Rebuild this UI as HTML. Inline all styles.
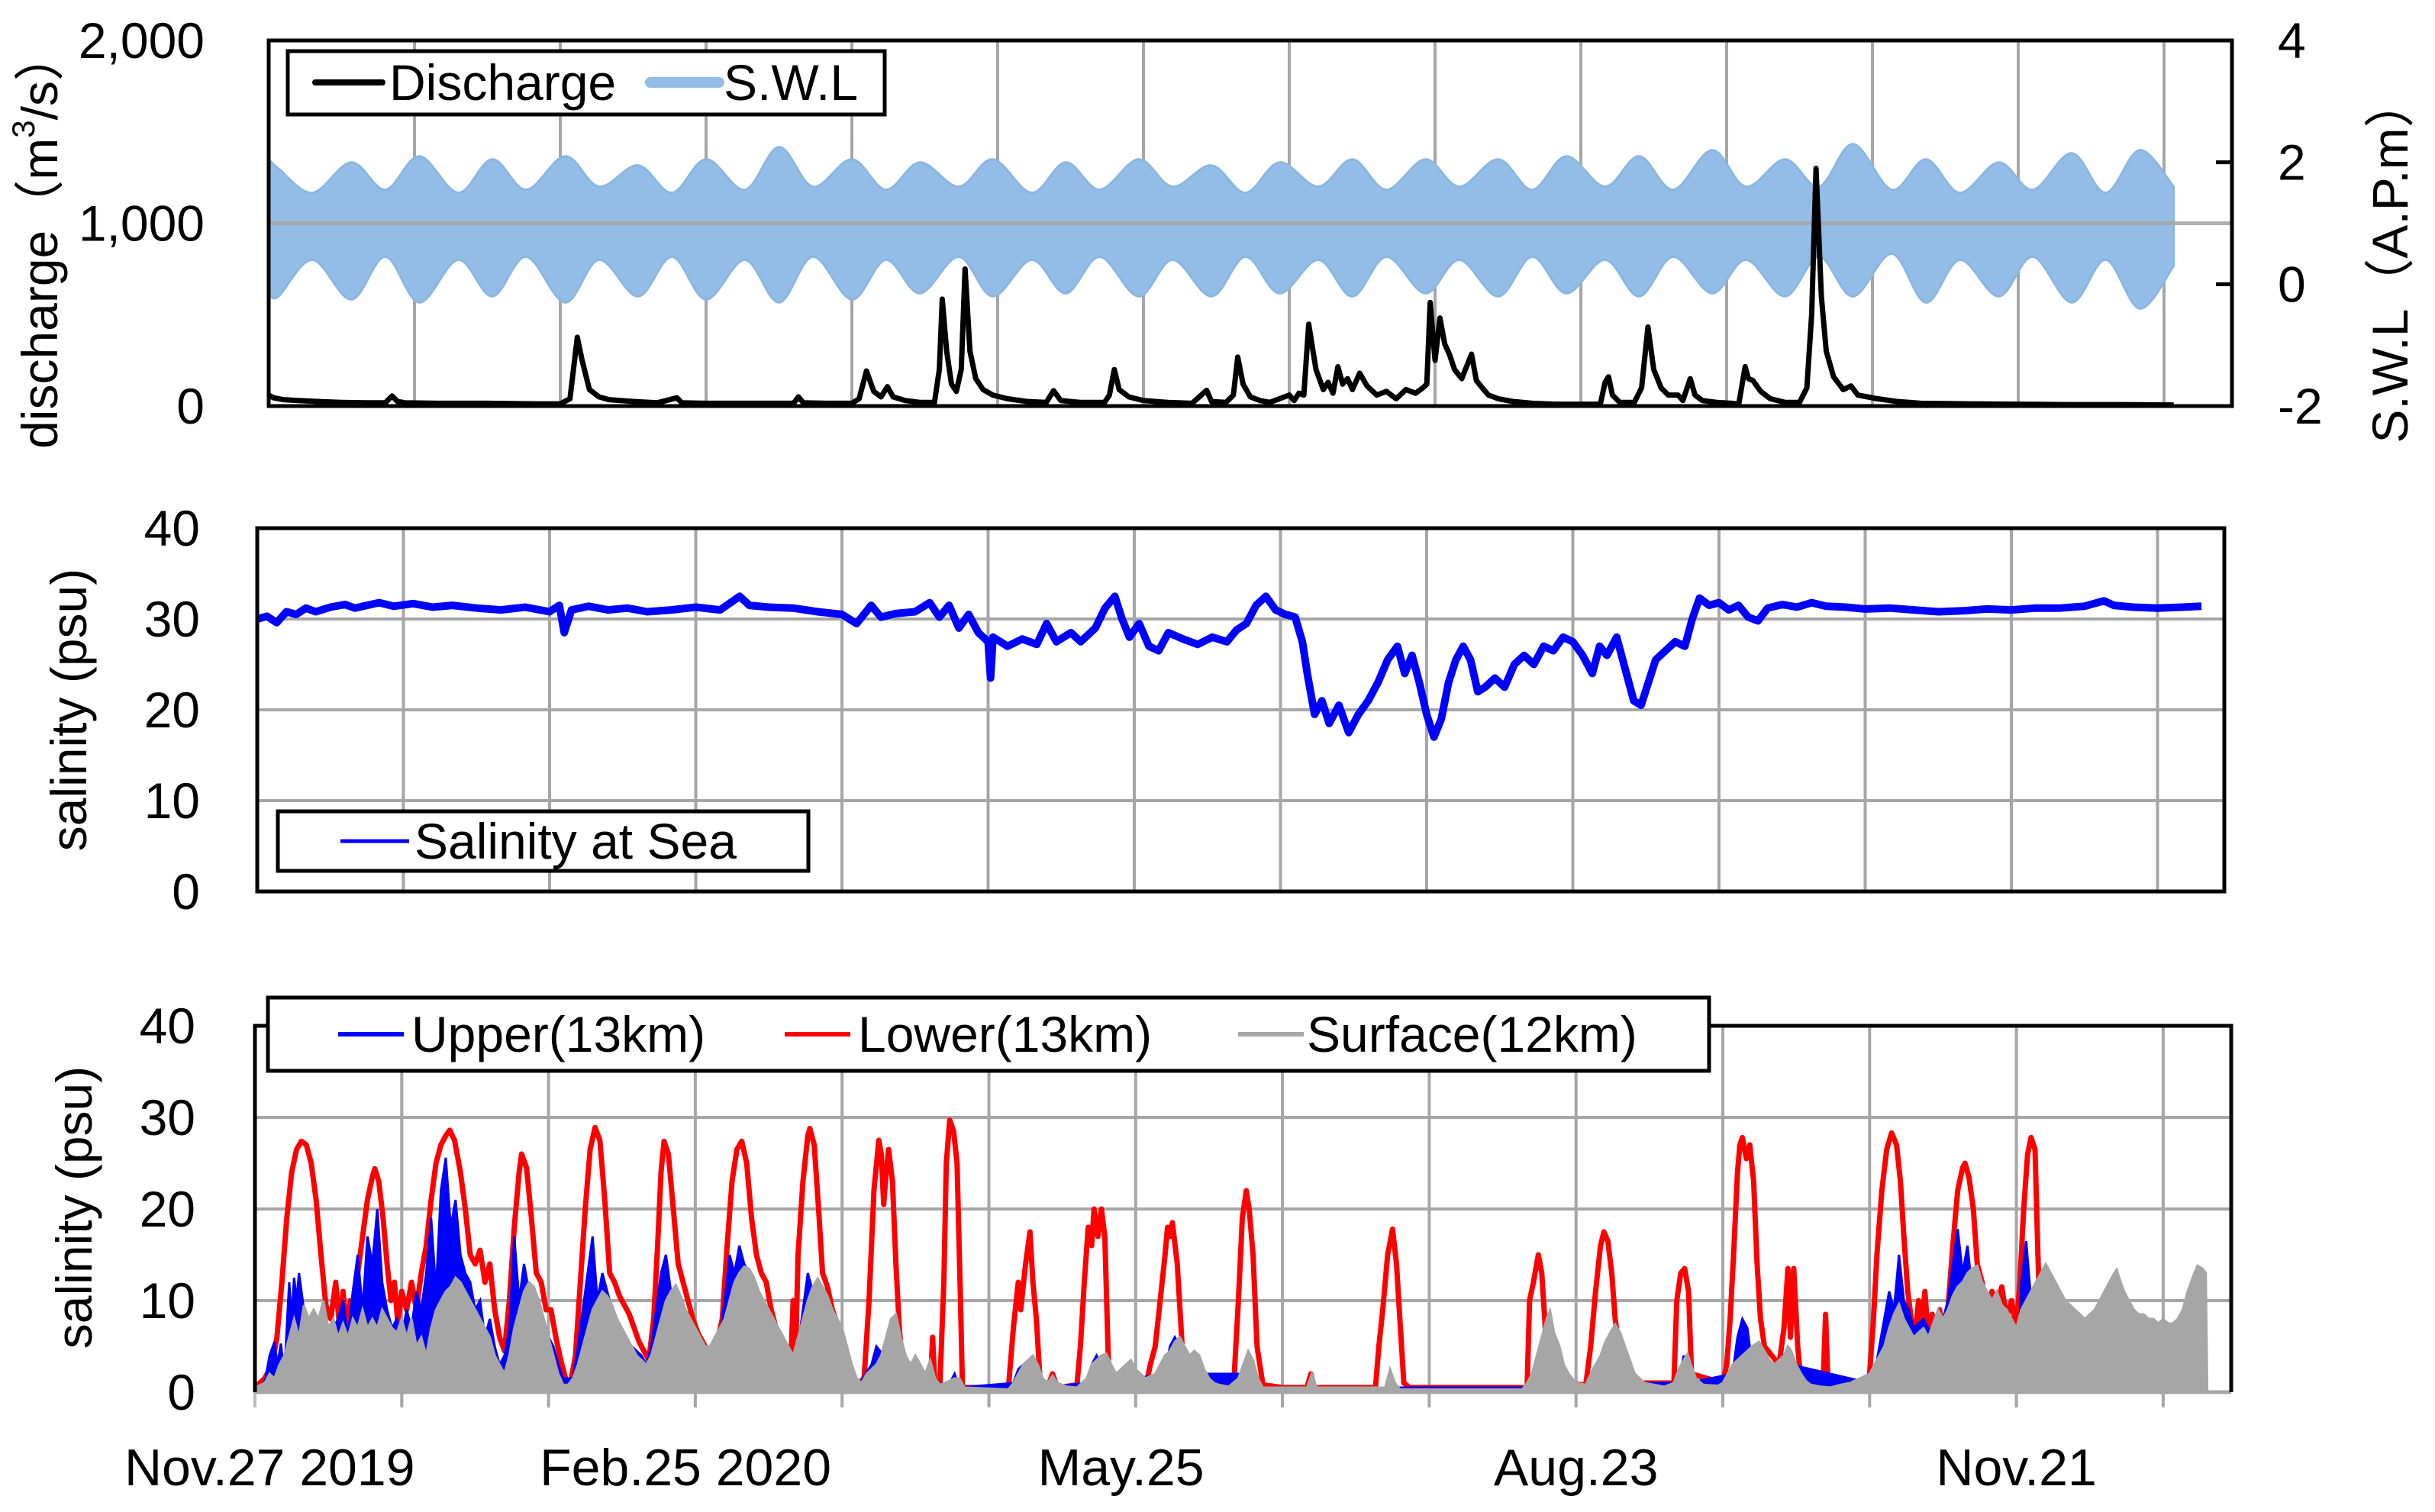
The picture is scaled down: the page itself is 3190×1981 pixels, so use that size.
<!DOCTYPE html>
<html>
<head>
<meta charset="utf-8">
<style>
html,body{margin:0;padding:0;background:#fff;}
svg{display:block;}
text{font-family:"Liberation Sans","Noto Sans CJK JP",sans-serif;fill:#000;}
</style>
</head>
<body>
<svg id="chart" width="3190" height="1981" viewBox="0 0 3190 1981" xmlns="http://www.w3.org/2000/svg">
  <rect x="0" y="0" width="3190" height="1981" fill="#fff"/>
  <g id="p1"></g>
  <g id="p2"></g>
  <g id="p3"></g>
</svg>
<script>
// ---------- DATA ----------
const dischargeTicks = ["0", "1,000", "2,000"];
const dischargeTickValues = [0, 1000, 2000];
const swlTicks = ["-2", "0", "2", "4"];
const swlTickValues = [-2, 0, 2, 4];
const salinityTicks = ["0", "10", "20", "30", "40"];
const salinityTickValues = [0, 10, 20, 30, 40];
const dateLabels = ["Nov.27 2019", "Feb.25 2020", "May.25", "Aug.23", "Nov.21"];
const dateLabelDays = [3, 88, 177, 270, 360];

// discharge [day, m3/s]
const dischargeData = [[0,60],[1,45],[3,35],[6,30],[10,25],[15,20],[20,18],[24,18],[25.4,55],[26.5,25],[28,18],[35,15],[45,15],[55,12],[60,12],[62,40],[63.5,376],[64.5,250],[66,90],[68,50],[70,35],[75,25],[80,18],[84,45],[85,18],[90,15],[100,15],[108,15],[109,50],[110,18],[115,15],[120,15],[121.5,40],[123,192],[124.5,80],[126,50],[127.3,106],[128.5,50],[131,30],[134,20],[137,20],[138,200],[138.6,585],[139.5,300],[140.5,120],[141.5,80],[142.5,200],[143.3,750],[144.3,300],[145.5,150],[147,90],[149,60],[152,40],[156,25],[160,20],[161.5,84],[163,30],[167,20],[172,20],[173,60],[174,200],[175,90],[177,50],[180,30],[185,20],[190,15],[193,86],[194,25],[197,20],[198.5,60],[199.4,268],[200.5,120],[202,50],[204,30],[206,20],[208,40],[210,60],[211,30],[212,70],[213,60],[214,448],[215.5,200],[217,90],[218,130],[219,70],[220,215],[221,120],[222,150],[223,90],[224.5,180],[226,110],[228,60],[230,80],[232,40],[234,90],[236,70],[237.5,100],[238.3,120],[239,567],[240,250],[241,482],[242,340],[243,280],[244,200],[245.5,150],[247.5,284],[248.5,140],[250,90],[251,60],[253,40],[256,25],[260,15],[265,10],[270,10],[274,10],[275,130],[275.7,160],[276.5,60],[278,20],[281,20],[282.5,100],[283.8,432],[285,200],[286.5,100],[288,60],[290,60],[291,30],[292.5,150],[293.5,60],[295,30],[298,20],[301,15],[302.5,10],[303.8,215],[304.5,150],[305.4,140],[307,80],[309,40],[312,20],[315,20],[316.5,100],[317.5,500],[318.4,1300],[319.5,600],[320.5,300],[322,160],[324,90],[325.6,110],[327,60],[329,50],[331,40],[335,25],[340,15],[350,12],[360,10],[370,8],[380,8],[392,6]];

// S.W.L tidal envelope (spring/neap)
const swlDays = [0,2,9,17,24,31,39,46,53,61,68,76,83,90,98,105,112,120,127,134,142,149,157,164,171,179,186,194,201,208,216,223,230,238,245,253,260,267,275,282,289,297,304,312,319,326,334,341,348,356,363,371,378,385,392];
const swlUpper = [2.05,1.9,1.5,2.0,1.55,2.1,1.5,2.05,1.55,2.1,1.6,1.95,1.5,2.05,1.55,2.25,1.6,2.05,1.55,2.0,1.6,2.05,1.5,2.0,1.55,2.05,1.6,1.95,1.5,2.0,1.6,2.05,1.55,2.05,1.6,2.05,1.55,2.1,1.6,2.1,1.55,2.2,1.6,2.05,1.6,2.3,1.55,2.05,1.5,2.0,1.55,2.15,1.5,2.2,1.6];
const swlLower = [-0.15,-0.2,0.4,-0.25,0.45,-0.3,0.4,-0.2,0.45,-0.3,0.4,-0.2,0.45,-0.25,0.4,-0.3,0.45,-0.25,0.4,-0.15,0.45,-0.2,0.4,-0.15,0.45,-0.2,0.4,-0.2,0.45,-0.15,0.4,-0.2,0.45,-0.15,0.4,-0.2,0.45,-0.15,0.4,-0.2,0.45,-0.15,0.4,-0.2,0.45,-0.2,0.5,-0.3,0.4,-0.2,0.45,-0.3,0.4,-0.4,0.3];

// salinity at sea [day, psu]
const seaSalinity = [[0,30],[2,30.3],[4,29.6],[6,30.8],[8,30.5],[10,31.2],[12,30.8],[15,31.3],[18,31.6],[20,31.2],[25,31.8],[28,31.4],[32,31.7],[36,31.3],[40,31.5],[45,31.2],[50,31.0],[55,31.3],[60,30.8],[62,31.5],[63,28.5],[64.5,31.0],[68,31.4],[72,31.0],[76,31.2],[80,30.8],[85,31.0],[90,31.3],[95,31.0],[99,32.5],[101,31.5],[105,31.3],[110,31.2],[115,30.8],[120,30.5],[123,29.5],[126,31.5],[128,30.2],[131,30.6],[135,30.8],[138,31.8],[140,30.2],[142,31.5],[144,29],[146,30.5],[148,28.5],[150,27.5],[150.5,23.5],[151,28],[154,27],[157,27.8],[160,27.2],[162,29.5],[164,27.5],[167,28.5],[169,27.5],[172,29],[174,31.2],[176,32.5],[177.5,30],[179,28],[181,29.5],[183,27],[185,26.5],[187,28.5],[190,27.8],[193,27.2],[196,28],[199,27.5],[201,28.8],[203,29.5],[205,31.5],[207,32.5],[209,31],[211,30.5],[213,30.2],[214.5,27.5],[215.5,24],[217,19.5],[218.5,21],[220,18.5],[222,20.5],[224,17.5],[226,19.5],[228,21],[230,23],[232,25.5],[234,27],[235.5,24],[237,26],[238.5,23],[240,19.5],[241.5,17],[243,19],[244.5,23],[246,25.5],[247.5,27],[249,25.5],[250.5,22],[252,22.5],[254,23.5],[256,22.5],[258,25],[260,26],[262,25],[264,27],[266,26.5],[268,28],[270,27.5],[272,26],[274,24],[275.5,27],[277,26],[279,28],[281,24],[282.5,21],[284,20.5],[285.5,23],[287,25.5],[289,26.5],[291,27.5],[293,27],[294.5,30],[296,32.3],[298,31.5],[300,31.8],[302,31],[304,31.5],[306,30.2],[308,29.8],[310,31.2],[313,31.6],[316,31.3],[319,31.8],[322,31.4],[326,31.3],[330,31.1],[335,31.2],[340,31],[345,30.8],[350,30.9],[355,31.1],[360,31.0],[365,31.2],[370,31.2],[375,31.4],[379,32.0],[381,31.5],[385,31.3],[390,31.2],[395,31.3],[399,31.4]];

// Lower(13km) [day, psu]
const lowerSalinity = [[0,0.5],[2,1.5],[3.5,3],[4.5,6],[5.5,12],[6.5,19],[7.5,24],[8.5,26.5],[9.5,27.4],[10.5,27],[11.5,25],[12.5,21],[13.5,15],[14.5,9.5],[15.5,8],[16.5,12],[17.3,7],[18,11],[18.8,6.5],[19.5,10],[20.3,8],[21,13],[22,17],[23,21],[24,23.5],[24.5,24.4],[25.3,23],[26.2,19],[27,14],[27.8,10],[28.5,12],[29.2,7.5],[30,11],[31,9],[32,12],[33,9],[34,13],[35,16],[36,21],[37,25],[38,27],[39,28],[39.8,28.6],[40.8,27.5],[42,24],[43,20],[44,15],[45,14],[46,15.5],[47,12],[48,14],[49,9],[50,6],[51,4.5],[52,10],[53,18],[54,24],[54.5,26],[55.5,24.5],[56.5,19],[57.5,13],[58.5,12],[59.5,9],[60.5,9],[61.5,6],[62.5,3.5],[63.5,1.5],[64.5,1],[65.5,4],[66.5,12],[67.5,20],[68.5,26.5],[69.5,28.9],[70.5,27.5],[71.5,21],[72.5,13],[73.5,12],[74.5,10.5],[75.5,9.5],[76.5,8.5],[77.5,7],[78.5,5.5],[79.5,4.5],[80.5,3.5],[81.5,8],[82.3,16],[83,24],[83.6,27.4],[84.5,26],[85.5,20],[86.5,14],[87.5,12],[88.5,10],[89.5,8],[90.5,6.5],[91.5,5.5],[92.5,4.5],[93.5,5],[94.5,5.5],[95.5,8],[96.5,16],[97.5,23],[98.5,26.5],[99.5,27.4],[100.5,25],[101.5,19],[102.5,15],[103.5,13],[104.5,12],[105.5,9],[106.5,7],[107.5,5.5],[108.5,4],[109.5,3],[110,10],[110.5,4],[111,15],[112,23],[113,28],[113.4,28.8],[114.3,27],[115.2,20],[116,13],[117,11.5],[118,9],[119,7.5],[120,6],[121,4],[122,2],[123,0.8],[124.5,1.5],[125.5,10],[126.5,22],[127.5,27.5],[128,26],[128.5,20.5],[129,24],[129.5,26.5],[130.3,23],[131,14],[131.7,7],[132.5,2],[133.5,0.8],[136,0.5],[138,0.5],[138.5,6],[139,0.5],[140,1],[140.8,12],[141.3,25],[142,29.7],[142.8,28.5],[143.5,25],[144.2,10],[144.6,0.5],[150,0.5],[154,0.5],[155,7],[156,12],[156.5,9],[157.5,14],[158.4,17.5],[159,12],[159.7,8],[160.5,1],[162,0.5],[163,2],[164,0.5],[168,0.8],[168.7,5],[169.5,12],[170.3,18],[171,16],[171.5,20],[172.3,17],[173,20],[173.7,17],[174.5,2],[176,0.5],[182,0.5],[183,3],[184,5],[185,10],[186,15],[186.5,18],[187,17],[187.5,18.5],[188.5,14],[189.5,5],[190.5,1],[195,0.5],[200,0.5],[201,10],[201.8,19],[202.6,22],[203.2,20],[204,15],[204.8,5],[206,0.8],[210,0.5],[215,0.5],[215.8,2],[216.5,0.5],[229,0.5],[229.7,5],[230.5,9],[231.5,15],[232.5,17.8],[233.3,14],[234,8],[234.8,1],[236,0.5],[260,0.5],[260.5,10],[261.3,12],[262.3,15],[263,13],[263.6,8],[264.3,1],[272,0.8],[273,5],[274,11],[275,16],[275.7,17.5],[276.5,16.5],[277.3,13],[278,8],[279,4],[280.8,1],[290,1],[290.6,10],[291.4,13],[292.2,13.5],[293,11],[293.6,2],[300,1],[300.8,3],[301.5,8],[302.2,15],[303,24],[303.5,27],[304,27.8],[304.8,25.5],[305.5,27],[306.3,23],[307,14],[307.7,8],[308.5,5],[310,4],[311.5,3],[312.5,7],[313.3,13.5],[313.8,6],[314.5,13.5],[315.3,5],[316,1],[320.5,1],[321,8.5],[321.5,1],[329,1],[330,2],[330.8,8],[331.5,15],[332.5,22],[333.5,26.5],[334.5,28.3],[335.5,27],[336.3,23],[337,17],[337.8,11],[338.5,8],[339.3,6],[340,10],[340.5,6],[341.3,11],[342,6],[342.8,8.5],[343.5,5.5],[344.3,9],[345,6],[346,9],[347,16],[348,22],[349,24.5],[349.5,25],[350.3,23.5],[351.2,20],[352,14],[353,12],[354,9],[355,11],[356,9.5],[357,11.5],[358,8],[359,10],[360,7],[360.7,12],[361.5,20],[362.3,26],[363,27.8],[363.8,26.5],[364.4,15],[365,5],[366,3]];

// Upper(13km) [day, psu]
const upperSalinity = [[0,0.3],[2,1],[3,4],[4,5.5],[4.6,3],[5.3,5.3],[6,2],[7,12],[7.5,8],[8,12.5],[8.5,10],[9,13],[10,9],[11,7],[12,8],[13,7],[14,6],[16,7],[17,8],[18,10],[19,6],[20,11],[21,15],[22,9],[23,17],[24,14],[25,20],[26,12],[27,9],[28,7],[29,8],[30,6],[31,9],[32,7],[33,11],[34,9],[35,13],[36,19],[37,11],[38,22],[39,25.6],[40,18],[41,21],[42,15],[43,13],[44,12],[45,9],[46,10],[47,6],[48,8],[49,5],[50,3],[51,4],[52,7],[53,17],[54,10],[55,14],[56,11],[57,9],[58,10],[59,8],[60,6],[61,5],[62,3],[63,1.5],[65,1.5],[66,5],[67,9],[68,13],[69,17],[70,10],[71,13],[72,11],[73,9],[74,8],[75,6],[77,5],[79,4],[80,3],[81,5],[82,9],[83,13],[84,15],[85,11],[86,9],[88,8],[90,5],[92,4],[93,5],[94,4],[95,6],[96,10],[97,15],[98,13],[99,16],[100,14],[101,13],[103,10],[105,8],[107,6],[109,4],[110,2],[111,5],[112,9],[113,13],[114,11],[115,10],[116,8],[118,7],[120,5],[122,2],[123,0.5],[126,3],[127,5],[128.5,4],[130,6],[131,3],[133,0.5],[142,1],[143,2],[144,0.5],[155,1],[156,2.5],[157,3],[158,1.5],[160,2],[161,0.5],[170,1],[171,3],[172,4],[173,3],[174,1],[186,2],[187,5],[188,6],[189,5],[190,2],[202,2],[203,4],[204,2],[205,0.5],[272,0.5],[273,2],[274,3],[276,2.5],[277,1],[291,1],[292,4],[293,1],[302,2],[303,6],[304,8],[305,7],[306,3],[312,3],[313,4.5],[314,3],[330,1],[331,2],[332,5],[333,8],[334,11],[335,9],[336,15],[337,10],[338,9],[339,7],[341,8],[343,6],[345,8],[346,10],[347,14],[348,17.8],[349,13],[350,16],[351,11],[352,10],[354,9],[356,8],[358,7],[359.5,4],[360.5,6],[361,12],[362,16.5],[363,10],[364,8],[365,4],[366,2],[367,0.3]];

// Surface(12km) [day, psu]
const surfaceSalinity = [[0,0.5],[2,1],[3,2],[4,1.5],[5,3],[6,4],[7,6],[8,8],[9,6],[10,9.5],[11,8],[12,9],[13,8],[14,10],[15,7],[16,8],[17,6],[18,7.5],[19,6],[20,8],[21,7],[22,9],[23,7],[24,8],[25,7],[26,9],[27,8],[28,7],[29,6.5],[30,8],[31,6],[32,8],[33,5],[34,6],[35,4],[36,7],[37,9],[38,10],[39,11],[40,11.5],[41,12.5],[42,12],[43,11],[44,10],[45,9],[46,8],[47,7],[48,6],[49,4],[50,3],[51,2],[52,4],[53,7],[54,9],[55,11],[56,12],[57,11.5],[58,10],[59,8],[60,6],[61,4],[62,2],[63,0.8],[64,0.8],[65,1.5],[66,3],[67,5],[68,7],[69,9],[70,10],[71,11],[72,10.5],[73,9.5],[74,8],[75,7],[76,6],[77,5],[78,4],[79,3.5],[80,3],[81,4],[82,6],[83,8],[84,10],[85,11],[86,11.7],[87,10.5],[88,9],[89,8],[90,7],[91,6],[92,5],[93,5],[94,6],[95,7],[96,8],[97,10],[98,12],[99,13],[100,13.7],[101,13.5],[102,12.5],[103,11],[104,10],[105,9],[106,8],[107,7],[108,6],[109,5],[110,4],[111,6],[112,8],[113,10],[114,11.5],[115,12.4],[116,11.5],[117,10.5],[118,9],[119,8],[120,7],[121,5],[122,3],[123,1.5],[124,1],[125,2],[126,2.5],[127,3],[128,4],[129,6],[130,8],[131,8.5],[132,6],[133,4],[134,3],[135,4],[136,3],[137,2],[138,3.5],[139,1.5],[140,0.8],[141,1],[143,1.5],[144,1.5],[145,0.5],[154,0.3],[155,1],[156,2],[157,3],[158,3.5],[159,4],[160,3],[161,1.5],[162,1],[163,1.8],[164,1],[166,0.6],[168,0.5],[170,1.5],[171,3],[172,3.5],[173,4],[174,4.2],[175,3],[176,2],[177,2.5],[178,3],[179,3.5],[180,2.5],[181,2],[182,1.5],[184,2],[185,3],[186,4],[187,4.5],[188,5.5],[189,6],[190,5],[191,4],[192,4.5],[193,4],[194,2.5],[195,1.5],[196,1],[197,0.8],[199,0.6],[201,1.5],[202,3],[203,4.5],[204,3.5],[205,1.5],[206,0.5],[215,0.5],[216,2],[217,0.5],[231,0.5],[232,2.5],[233,1],[234,0.3],[259,0.3],[260,1],[261,2],[262,4],[263,6],[264,8],[264.7,8.9],[265.5,6.5],[266.6,5],[267.5,3],[268.5,2],[270,1],[272,0.8],[273,2],[274,3],[275,4],[276,5.5],[277,6.5],[278,7.4],[279,6.5],[280,5],[281,3.5],[282,2],[283,1.5],[284,1],[286,0.8],[288,0.6],[290,1],[291,2.5],[292,3.5],[292.8,4.2],[293.5,3],[294.5,1.5],[296,0.8],[299,0.7],[300,1],[301,2],[302,3],[303,3.5],[304,4],[305,4.5],[306,5],[307.4,5.5],[308.5,4.5],[309.5,3.5],[310.5,3],[311.5,3.5],[312.5,4],[313.3,5],[314,4.5],[315,3],[316,2],[317,1.2],[318,0.8],[320,0.6],[322,0.5],[324,0.8],[326,1],[328,1.5],[330,2],[331,3],[332,4],[333,5],[334,7],[335,8.5],[336,9.6],[337,8],[338,7],[339,6],[340,6.5],[341,7],[342,6],[343,7.5],[344,9],[345,8],[346,9],[347,10.5],[348,11.5],[349,12],[350,13],[351,13.5],[352,13.8],[353,12],[354,11],[355,10],[356,11],[357,9.5],[358,9],[359,8],[360,7],[361,9],[362,10],[363,11],[364,12],[365,13],[366,14],[367,13],[368,12],[369,11],[370,10],[371,9.5],[372,9],[373,8.5],[374,8],[375,8.5],[376,9],[377,10],[378,11],[379,12],[380,13],[380.5,13.4],[381,12.5],[382,11],[383,10],[384,9],[385,8.5],[386,8.5],[387,8],[388,8],[389,7.5],[390,8],[391,7.5],[392,7.5],[393,8],[394,9],[395,11],[396,12.5],[397,13.8],[398,13.5],[398.7,13],[399,0.3]];

// ---------- HELPERS ----------
const NS = "http://www.w3.org/2000/svg";
function mk(parent, tag, attrs, txt) {
  const el = document.createElementNS(NS, tag);
  for (const k in attrs) el.setAttribute(k, attrs[k]);
  if (txt !== undefined) el.textContent = txt;
  parent.appendChild(el);
  return el;
}
function linePath(pts) {
  return pts.map((p, i) => (i ? "L" : "M") + p[0].toFixed(1) + " " + p[1].toFixed(1)).join(" ");
}
function smoothPath(pts, move) {
  let d = move ? "M" + pts[0][0].toFixed(1) + " " + pts[0][1].toFixed(1) : "L" + pts[0][0].toFixed(1) + " " + pts[0][1].toFixed(1);
  for (let i = 0; i < pts.length - 1; i++) {
    const p0 = pts[Math.max(0, i - 1)], p1 = pts[i], p2 = pts[i + 1], p3 = pts[Math.min(pts.length - 1, i + 2)];
    const c1x = p1[0] + (p2[0] - p0[0]) / 6, c1y = p1[1] + (p2[1] - p0[1]) / 6;
    const c2x = p2[0] - (p3[0] - p1[0]) / 6, c2y = p2[1] - (p3[1] - p1[1]) / 6;
    d += " C" + c1x.toFixed(1) + " " + c1y.toFixed(1) + " " + c2x.toFixed(1) + " " + c2y.toFixed(1) + " " + p2[0].toFixed(1) + " " + p2[1].toFixed(1);
  }
  return d;
}
const GRID = "#a6a6a6";
const FS = 66;

// ---------- PANEL 1 ----------
(function () {
  const g = document.getElementById("p1");
  const L = 352, R = 2924, T = 53, B = 532, PXD = 191 / 30;
  const x = d => L + d * PXD;
  const yQ = v => B - v * (B - T) / 2000;
  const yS = v => B - (v + 2) * (B - T) / 6;

  for (let k = 1; k <= 13; k++) {
    const gl = mk(g, "line", { x1: L + 191 * k, x2: L + 191 * k, y1: T, y2: B, stroke: GRID, "stroke-width": 4 });
    
    
  }
  const up = [], lo = [];
  const n = Math.min(swlDays.length, swlUpper.length, swlLower.length);
  for (let i = 0; i < n; i++) { up.push([x(swlDays[i]), yS(swlUpper[i])]); lo.push([x(swlDays[i]), yS(swlLower[i])]); }
  const band = mk(g, "path", { d: smoothPath(up, true) + " " + smoothPath(lo.slice().reverse(), false) + " Z", fill: "#93bde6", stroke: "#8ab6e2", "stroke-width": 3 });
  
  
  const hl = mk(g, "line", { x1: L, x2: R, y1: yQ(1000), y2: yQ(1000), stroke: GRID, "stroke-width": 5, opacity: 0.9 });
  
  
  const dq = mk(g, "path", { d: linePath(dischargeData.map(p => [x(p[0]), yQ(p[1])])), fill: "none", stroke: "#000", "stroke-width": 7, "stroke-linejoin": "round" });
  
  
  const fr = mk(g, "rect", { x: L, y: T, width: R - L, height: B - T, fill: "none", stroke: "#000", "stroke-width": 5 });
  
  
  for (let i = 0; i < swlTickValues.length; i++) {
    const v = swlTickValues[i];
    const tk = mk(g, "line", { x1: R - 21, x2: R, y1: yS(v), y2: yS(v), stroke: "#000", "stroke-width": 5 });
    
    
    const tl = mk(g, "text", { x: 2984, y: yS(v), "font-size": FS, "dominant-baseline": "central" }, swlTicks[i]);
    
    
  }
  for (let i = 0; i < dischargeTickValues.length; i++) {
    const tl = mk(g, "text", { x: 268, y: yQ(dischargeTickValues[i]), "font-size": FS, "text-anchor": "end", "dominant-baseline": "central" }, dischargeTicks[i]);
    
    
  }
  const yt = mk(g, "text", { x: 0, y: 0, "font-size": FS, "text-anchor": "middle", "dominant-baseline": "central", transform: "translate(52,314) rotate(-90)" });
  
  
  yt.appendChild(document.createTextNode("discharge（m"));
  mk(yt, "tspan", { "font-size": 42, dy: -22 }, "3");
  mk(yt, "tspan", { dy: 22 }, "/s）");
  const rt = mk(g, "text", { x: 0, y: 0, "font-size": FS, "text-anchor": "middle", "dominant-baseline": "central", transform: "translate(3131,341) rotate(-90)" }, "S.W.L（A.P.m）");
  
  
  const lg = mk(g, "g", {});
  
  
  mk(lg, "rect", { x: 377, y: 67, width: 782, height: 83, fill: "#fff", stroke: "#000", "stroke-width": 5 });
  const e1 = mk(lg, "g", {});
  
  
  mk(e1, "line", { x1: 413, x2: 501, y1: 108, y2: 108, stroke: "#000", "stroke-width": 8, "stroke-linecap": "round" });
  mk(e1, "text", { x: 510, y: 108, "font-size": FS, "dominant-baseline": "central" }, "Discharge");
  const e2 = mk(lg, "g", {});
  
  
  mk(e2, "line", { x1: 852, x2: 942, y1: 108, y2: 108, stroke: "#93bde6", "stroke-width": 14, "stroke-linecap": "round" });
  mk(e2, "text", { x: 948, y: 108, "font-size": FS, "dominant-baseline": "central" }, "S.W.L");
})();

// ---------- PANEL 2 ----------
(function () {
  const g = document.getElementById("p2");
  const L = 337, R = 2914, T = 692, B = 1168, SP = 191.5, PXD = SP / 30;
  const x = d => L + d * PXD;
  const y = v => B - v * (B - T) / 40;
  for (let k = 1; k <= 13; k++) {
    const gl = mk(g, "line", { x1: L + SP * k, x2: L + SP * k, y1: T, y2: B, stroke: GRID, "stroke-width": 4 });
    
    
  }
  for (let i = 1; i < 4; i++) {
    const gl = mk(g, "line", { x1: L, x2: R, y1: y(salinityTickValues[i]), y2: y(salinityTickValues[i]), stroke: GRID, "stroke-width": 4 });
    
    
  }
  const s = mk(g, "path", { d: linePath(seaSalinity.map(p => [x(p[0]), y(p[1])])), fill: "none", stroke: "#0000ff", "stroke-width": 10, "stroke-linejoin": "round" });
  
  
  const fr = mk(g, "rect", { x: L, y: T, width: R - L, height: B - T, fill: "none", stroke: "#000", "stroke-width": 5 });
  
  
  for (let i = 0; i < salinityTickValues.length; i++) {
    const tl = mk(g, "text", { x: 262, y: y(salinityTickValues[i]), "font-size": FS, "text-anchor": "end", "dominant-baseline": "central" }, salinityTicks[i]);
    
    
  }
  const yt = mk(g, "text", { x: 0, y: 0, "font-size": FS, "text-anchor": "middle", "dominant-baseline": "central", transform: "translate(90,930) rotate(-90)" }, "salinity (psu)");
  
  
  const lg = mk(g, "g", {});
  
  
  mk(lg, "rect", { x: 364, y: 1063, width: 695, height: 78, fill: "#fff", stroke: "#000", "stroke-width": 5 });
  mk(lg, "line", { x1: 446, x2: 536, y1: 1102, y2: 1102, stroke: "#0000ff", "stroke-width": 5 });
  mk(lg, "text", { x: 543, y: 1102, "font-size": FS, "dominant-baseline": "central" }, "Salinity at Sea");
})();

// ---------- PANEL 3 ----------
(function () {
  const g = document.getElementById("p3");
  const L = 334, R = 2923, T = 1344, B = 1824, SP = 192.3, PXD = SP / 30;
  const x = d => L + d * PXD;
  const y = v => B - v * (B - T) / 40;
  for (let k = 0; k <= 13; k++) {
    if (k > 0) {
      const gl = mk(g, "line", { x1: L + SP * k, x2: L + SP * k, y1: T, y2: B, stroke: GRID, "stroke-width": 4 });
      
      
    }
    const tk = mk(g, "line", { x1: L + SP * k, x2: L + SP * k, y1: B, y2: B + 20, stroke: k === 0 ? "#bbb" : GRID, "stroke-width": 4 });
    
    
  }
  for (let i = 1; i < 4; i++) {
    const gl = mk(g, "line", { x1: L, x2: R, y1: y(salinityTickValues[i]), y2: y(salinityTickValues[i]), stroke: GRID, "stroke-width": 4 });
    
    
  }
  const area = pts => {
    const p = pts.map(q => [x(q[0]), y(q[1])]);
    return "M" + p[0][0].toFixed(1) + " " + B + " " + p.map(q => "L" + q[0].toFixed(1) + " " + q[1].toFixed(1)).join(" ") + " L" + p[p.length - 1][0].toFixed(1) + " " + B + " Z";
  };
  const red = mk(g, "path", { d: linePath(lowerSalinity.map(p => [x(p[0]), y(p[1])])), fill: "none", stroke: "#ff0000", "stroke-width": 7, "stroke-linejoin": "round" });
  
  
  const blue = mk(g, "path", { d: area(upperSalinity), fill: "#0000ff", stroke: "#0000ff", "stroke-width": 3 });
  
  
  const gray = mk(g, "path", { d: area(surfaceSalinity), fill: "#a6a6a6", stroke: "#a6a6a6", "stroke-width": 3 });
  
  
  const bl = mk(g, "line", { x1: L, x2: R, y1: B, y2: B, stroke: "#a6a6a6", "stroke-width": 5 });
  
  
  const fr = mk(g, "path", { d: "M" + L + " " + B + " L" + L + " " + T + " L" + R + " " + T + " L" + R + " " + B, fill: "none", stroke: "#000", "stroke-width": 5 });
  
  
  for (let i = 0; i < salinityTickValues.length; i++) {
    const tl = mk(g, "text", { x: 256, y: y(salinityTickValues[i]), "font-size": FS, "text-anchor": "end", "dominant-baseline": "central" }, salinityTicks[i]);
    
    
  }
  for (let i = 0; i < dateLabels.length; i++) {
    const tl = mk(g, "text", { x: x(dateLabelDays[i]), y: 1946, "font-size": 68, "text-anchor": "middle" }, dateLabels[i]);
    
    
  }
  const yt = mk(g, "text", { x: 0, y: 0, "font-size": FS, "text-anchor": "middle", "dominant-baseline": "central", transform: "translate(97,1582) rotate(-90)" }, "salinity (psu)");
  
  
  const lg = mk(g, "g", {});
  
  
  mk(lg, "rect", { x: 351, y: 1307, width: 1888, height: 96, fill: "#fff", stroke: "#000", "stroke-width": 5 });
  const items = [["Upper(13km)", "#0000ff", 443, 539], ["Lower(13km)", "#ff0000", 1028, 1124], ["Surface(12km)", "#a6a6a6", 1622, 1712]];
  for (const it of items) {
    const e = mk(lg, "g", {});
    
    
    mk(e, "line", { x1: it[2], x2: it[2] + 86, y1: 1355, y2: 1355, stroke: it[1], "stroke-width": 6 });
    mk(e, "text", { x: it[3], y: 1355, "font-size": FS, "dominant-baseline": "central" }, it[0]);
  }
})();
</script>
</body>
</html>
